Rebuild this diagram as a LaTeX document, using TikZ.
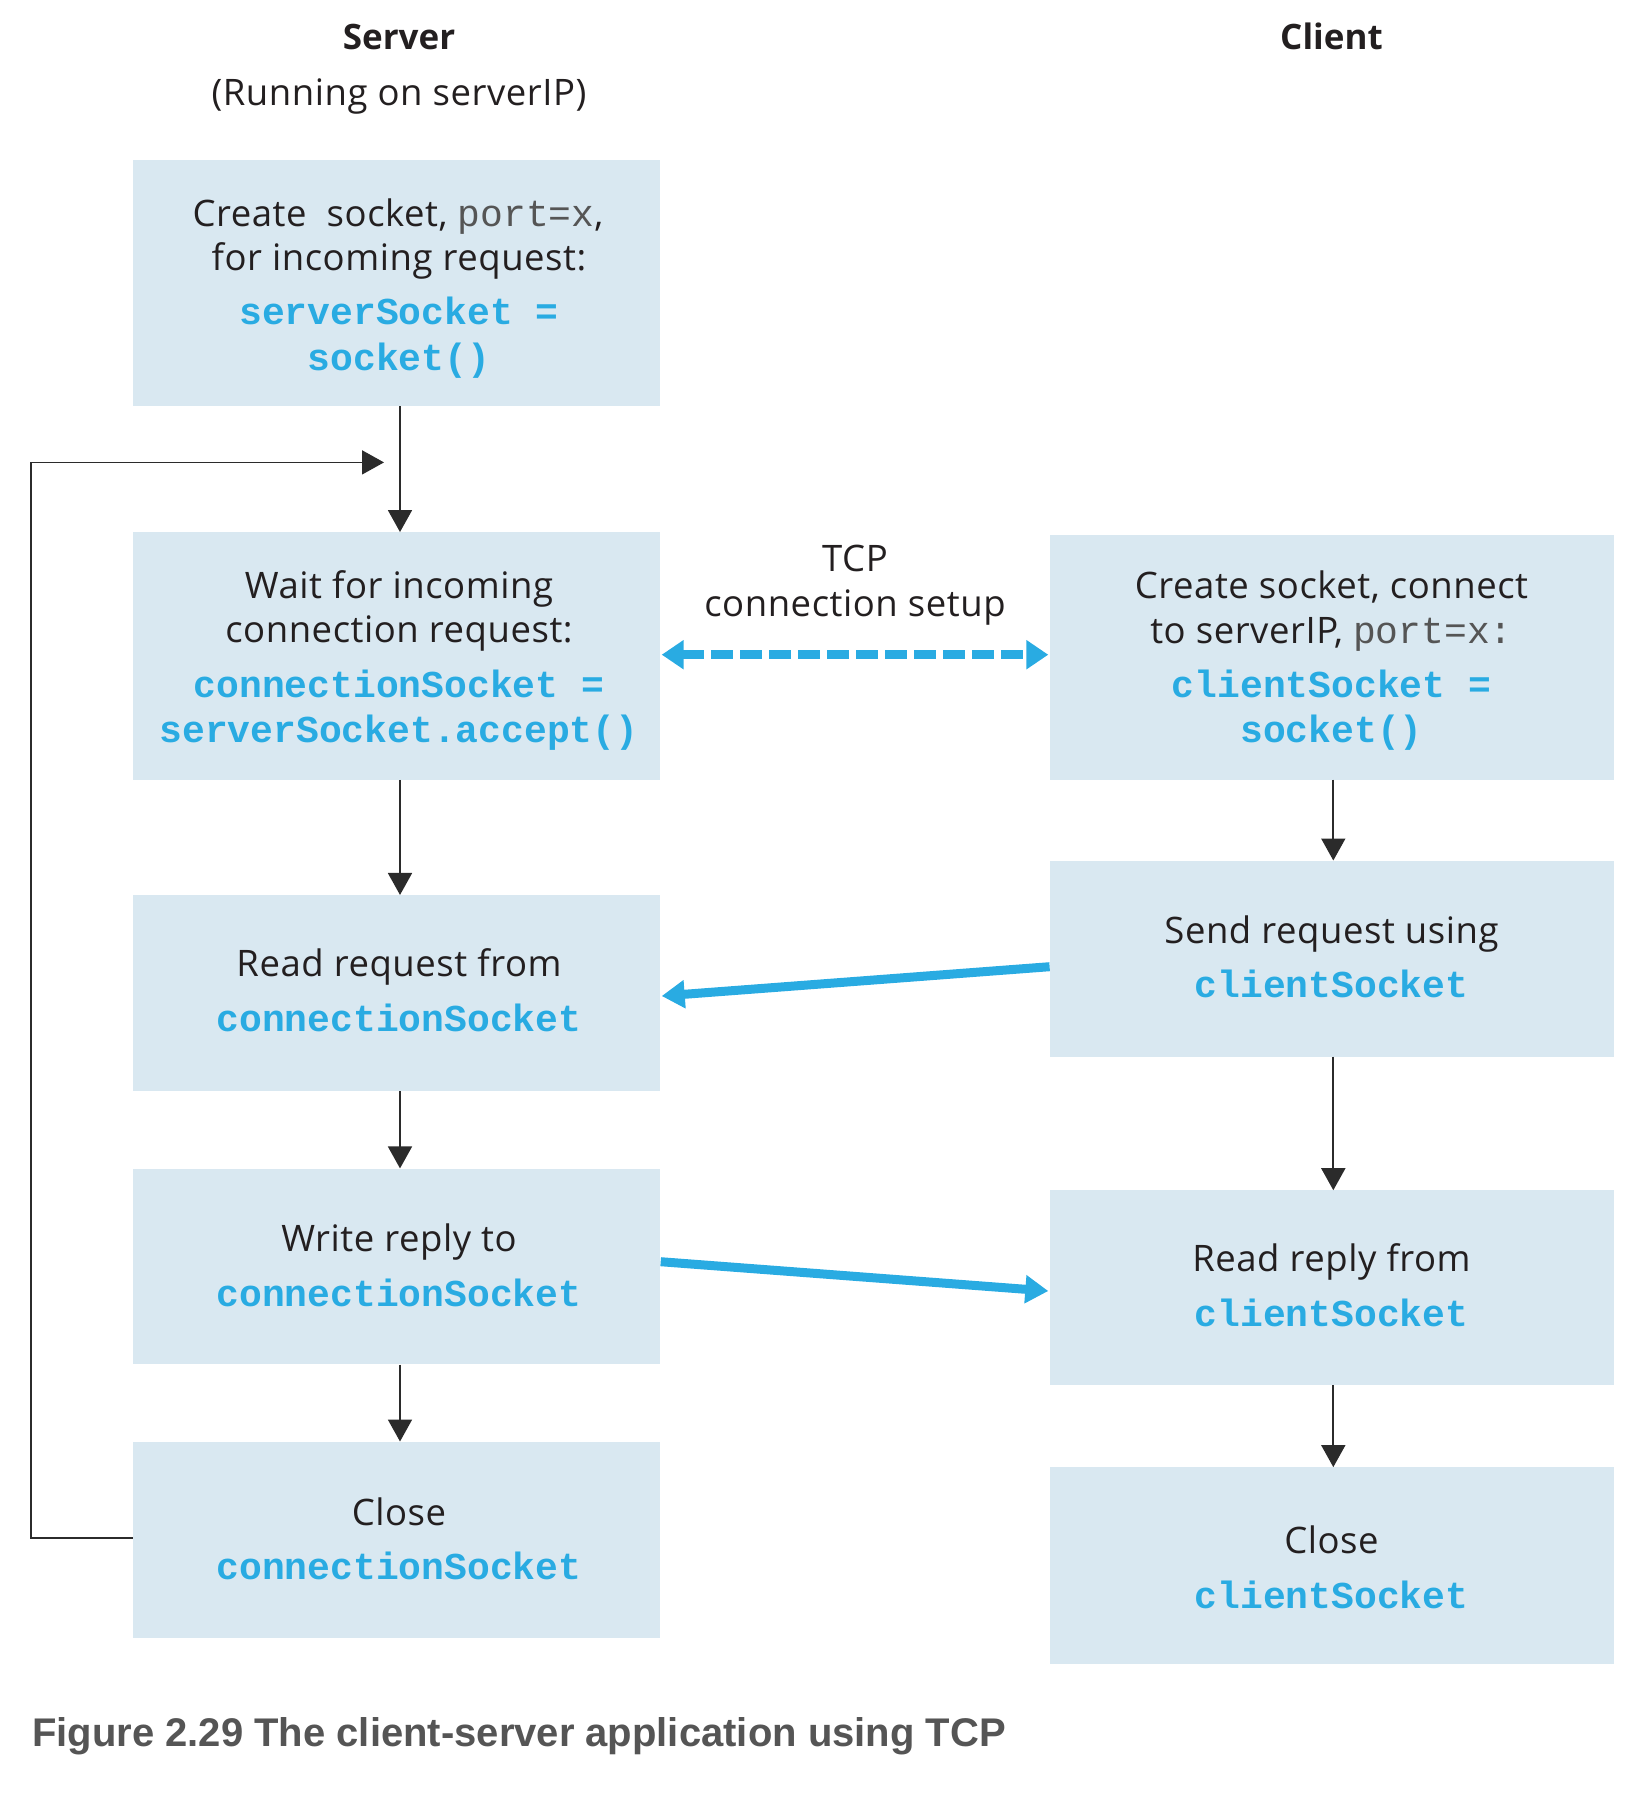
\documentclass[tikz,border=0pt]{standalone}
\usepackage{fontspec}
\setmainfont{Open Sans}
\newfontfamily\codefont{Liberation Mono}
\newfontfamily\capfont{Liberation Sans}
\usetikzlibrary{arrows.meta}
\definecolor{boxfill}{HTML}{D9E8F1}
\definecolor{codeblue}{HTML}{29ABE2}
\definecolor{textdark}{HTML}{231F20}
\definecolor{codegray}{HTML}{555555}
\definecolor{capgray}{HTML}{555555}
\definecolor{linedark}{HTML}{2B2B2B}
\newcommand\graycode[1]{{\codefont\fontsize{38}{45}\selectfont\color{codegray}#1}}
\tikzset{
  sansfont/.style={font=\fontsize{36.5}{45}\selectfont\addfontfeatures{LetterSpace=1.5}},
  box/.style={fill=boxfill, inner sep=0pt},
  sbox/.style={box, minimum width=527.5pt},
  cbox/.style={box, minimum width=564.4pt},
  sline/.style={anchor=base, inner sep=0pt, text=textdark, sansfont},
  cline/.style={anchor=base, inner sep=0pt, text=codeblue, font=\codefont\bfseries\fontsize{38}{45}\selectfont},
  flow/.style={draw=linedark, line width=1.8pt, -{Triangle[length=22pt,width=24pt]}},
  blueflow/.style={draw=codeblue, line width=9pt, -{Triangle[length=23pt,width=27pt]}},
  title/.style={anchor=base, text=textdark, inner sep=0pt},
}
\begin{document}
\begin{tikzpicture}[x=1pt,y=-1pt]
\useasboundingbox (0,0) rectangle (1640,1794);
% titles
\node[title,font=\fontsize{35}{45}\selectfont\bfseries] (tserver) at (399,49.8) {Server};
\node[title,sansfont] (tserverip) at (399,105.9) {(Running on serverIP)};
\node[title,font=\fontsize{35}{45}\selectfont\bfseries] (tclient) at (1331.5,49.8) {Client};
% server boxes
\node[sbox, minimum height=246pt] (b1) at (396.5,283.2) {};
\node[sbox, minimum height=247.3pt] (b2) at (396.5,655.9) {};
\node[sbox, minimum height=195.7pt] (b3) at (396.5,993) {};
\node[sbox, minimum height=195.8pt] (b4) at (396.5,1266.5) {};
\node[sbox, minimum height=196.6pt] (b5) at (396.5,1540) {};
% client boxes
\node[cbox, minimum height=245pt] (c1) at (1331.8,657) {};
\node[cbox, minimum height=195.8pt] (c2) at (1331.8,958.6) {};
\node[cbox, minimum height=194.6pt] (c3) at (1331.8,1287.7) {};
\node[cbox, minimum height=197pt] (c4) at (1331.8,1565.8) {};
% server texts
\node[sline] (b1a) at (398,226) {Create\ \ socket, \graycode{port=x},};
\node[sline] (b1b) at (399,270.7) {for incoming request:};
\node[cline] (b1c) at (399,324.5) {serverSocket =};
\node[cline] (b1d) at (399,370.3) {socket()};
\node[sline] (b2a) at (399,598) {Wait for incoming};
\node[sline] (b2b) at (399,642.7) {connection request:};
\node[cline] (b2c) at (399,697.6) {connectionSocket =};
\node[cline] (b2d) at (399,742.3) {serverSocket.accept()};
\node[sline] (b3a) at (399,976.9) {Read request from};
\node[cline] (b3b) at (399,1031.8) {connectionSocket};
\node[sline] (b4a) at (399,1251.6) {Write reply to};
\node[cline] (b4b) at (399,1306.5) {connectionSocket};
\node[sline] (b5a) at (399,1525) {Close};
\node[cline] (b5b) at (399,1579) {connectionSocket};
% client texts
\node[sline] (c1a) at (1331.5,598) {Create socket, connect};
\node[sline] (c1b) at (1331.5,643.8) {to serverIP, \graycode{port=x:}};
\node[cline] (c1c) at (1331.5,697.6) {clientSocket =};
\node[cline] (c1d) at (1331.5,742.3) {socket()};
\node[sline] (c2a) at (1331.5,943.7) {Send request using};
\node[cline] (c2b) at (1331.5,997.5) {clientSocket};
\node[sline] (c3a) at (1331.5,1271.1) {Read reply from};
\node[cline] (c3b) at (1331.5,1326) {clientSocket};
\node[sline] (c4a) at (1331.5,1553) {Close};
\node[cline] (c4b) at (1331.5,1608) {clientSocket};
% TCP label
\node[title,sansfont] (tcpa) at (855,571.7) {TCP};
\node[title,sansfont] (tcpb) at (855,616.3) {connection setup};
% server flow
\draw[flow] ([xshift=3.5pt]b1.south) -- ([xshift=3.5pt]b2.north);
\draw[flow] ([xshift=3.5pt]b2.south) -- ([xshift=3.5pt]b3.north);
\draw[flow] ([xshift=3.5pt]b3.south) -- ([xshift=3.5pt]b4.north);
\draw[flow] ([xshift=3.5pt]b4.south) -- ([xshift=3.5pt]b5.north);
% loop back
\coordinate (loopA) at (31,1537.7);
\coordinate (loopB) at (31,462.4);
\coordinate (loopC) at (384,462.4);
\draw[flow] ([yshift=2.3pt]b5.west) -- (loopA) -- (loopB) -- (loopC);
% client flow
\draw[flow] ([xshift=1.5pt]c1.south) -- ([xshift=1.5pt]c2.north);
\draw[flow] ([xshift=1.5pt]c2.south) -- ([xshift=1.5pt]c3.north);
\draw[flow] ([xshift=1.5pt]c3.south) -- ([xshift=1.5pt]c4.north);
% TCP dashed
\coordinate (dL) at (661.7,654.7);
\coordinate (dR) at (1048.3,654.7);
\draw[draw=codeblue, line width=9.5pt, dash pattern=on 21.5pt off 7.5pt, {Triangle[length=22pt,width=28pt]}-{Triangle[length=22pt,width=28pt]}] (dL) -- (dR);
% data arrows
\coordinate (r1s) at (1049.6,966.7);
\coordinate (r1e) at (661.7,996);
\draw[blueflow] (r1s) -- (r1e);
\coordinate (r2s) at (660.7,1261.7);
\coordinate (r2e) at (1048.3,1291);
\draw[blueflow] (r2s) -- (r2e);
% caption
\node[anchor=base west, inner sep=0pt, text=capgray, font=\capfont\bfseries\fontsize{40}{46}\selectfont] (cap) at (32,1746.7) {Figure 2.29 The client-server application using TCP};
\end{tikzpicture}
\end{document}
